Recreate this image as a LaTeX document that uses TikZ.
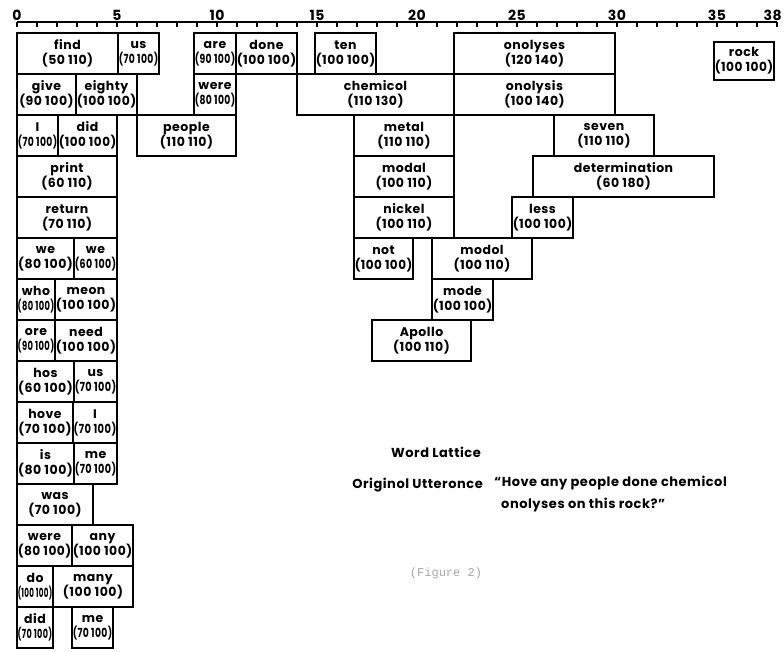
\documentclass[tikz,border=0pt]{standalone}
\usepackage{graphicx}
\usepackage{fontspec}
\setmainfont{Poppins}[LetterSpace=4]
\newfontfamily\typewriter{Liberation Mono}
% squeeze a text into a given width when it is wider
\newsavebox\fitbox
\newcommand\fitto[2]{\sbox\fitbox{#2}%
  \ifdim\wd\fitbox>#1\relax\resizebox{#1}{\height}{\usebox\fitbox}%
  \else\usebox\fitbox\fi}
\begin{document}
\begin{tikzpicture}[
  x=20pt, y=-41pt,
  every node/.style={font=\bfseries\fontsize{12.5}{15}\selectfont},
  wordbox/.style={draw, line width=1.3pt, inner sep=0pt, outer sep=0pt,
    align=center, minimum height=41pt},
  ticklabel/.style={anchor=south, inner sep=1pt,
    font=\bfseries\fontsize{14}{16}\selectfont},
  caption/.style={font=\bfseries\fontsize{13}{22}\selectfont},
]
\useasboundingbox (-17pt,33pt) rectangle (767pt,-618pt);

% scale along the top
\begin{scope}[yshift=11pt]
  \draw[line width=1.2pt] (0,0) -- (38,0);
  \foreach \i in {0,...,38} {
    \draw[line width=1.2pt] (\i,0) -- ++(0pt,-5pt);
  }
  \foreach \i in {0,5,...,35} {
    \node[ticklabel] (tick\i) at (\i,0) {\i};
  }
  \node[ticklabel, anchor=south east] (tick38) at ([xshift=6pt]38,0) {38};
\end{scope}

% left column of the lattice
\foreach \nm/\xa/\xb/\r/\w/\v in {
    find/0/5.05/0/find/50 110, usA/5.05/7.1/0/us/70 100,
    give/0/2.95/1/give/90 100, eighty/2.95/6/1/eighty/100 100,
    iA/0/2.05/2/I/70 100, didA/2.05/5/2/did/100 100,
    print/0/5/3/print/60 110,
    return/0/5/4/return/70 110,
    weA/0/2.85/5/we/80 100, weB/2.85/5/5/we/60 100,
    who/0/1.9/6/who/80 100, mean/1.9/5/6/meon/100 100,
    areA/0/1.9/7/ore/90 100, need/1.9/5/7/need/100 100,
    has/0/2.85/8/hos/60 100, usB/2.85/5/8/us/70 100,
    have/0/2.8/9/hove/70 100, iB/2.8/5/9/I/70 100,
    is/0/2.85/10/is/80 100, meA/2.85/5/10/me/70 100,
    was/0/3.8/11/was/70 100,
    wereA/0/2.75/12/were/80 100, any/2.75/5.8/12/any/100 100,
    do/0/1.8/13/do/100 100, many/1.8/5.8/13/many/100 100,
    didB/0/1.8/14/did/70 100, meB/2.75/4.8/14/me/70 100} {
  \pgfmathsetlengthmacro\boxw{(\xb-\xa)*20pt-1.5pt}
  \node[wordbox, minimum width={(\xb-\xa)*20pt}]
    (\nm) at ({(\xa+\xb)/2}, {\r+0.5})
    {\makebox[0pt]{\w}\\\makebox[0pt]{\fitto{\boxw}{(\v)}}};
}

% middle and right of the lattice
\foreach \nm/\xa/\xb/\r/\w/\v in {
    areB/8.85/10.95/0/are/90 100, done/10.95/14/0/done/100 100,
    ten/14.9/17.95/0/ten/100 100, analyses/21.85/29.9/0/onolyses/120 140,
    wereB/8.85/10.95/1/were/80 100, chemical/14/21.85/1/chemicol/110 130,
    analysis/21.85/29.9/1/onolysis/100 140,
    people/6/10.95/2/people/110 110, metal/16.85/21.85/2/metal/110 110,
    seven/26.85/31.85/2/seven/110 110,
    modalA/16.85/21.85/3/modal/100 110,
    determination/25.8/34.85/3/determination/60 180,
    nickel/16.85/21.85/4/nickel/100 110, less/24.75/27.8/4/less/100 100,
    not/16.85/19.8/5/not/100 100, modalB/20.75/25.75/5/modol/100 110,
    mode/20.75/23.8/6/mode/100 100,
    apollo/17.75/22.7/7/Apollo/100 110} {
  \pgfmathsetlengthmacro\boxw{(\xb-\xa)*20pt-1.5pt}
  \node[wordbox, minimum width={(\xb-\xa)*20pt}]
    (\nm) at ({(\xa+\xb)/2}, {\r+0.5})
    {\makebox[0pt]{\w}\\\makebox[0pt]{\fitto{\boxw}{(\v)}}};
}
\node[wordbox, minimum width=60pt, minimum height=38pt]
  (rock) at (36.35, 0.685)
  {\makebox[0pt]{rock}\\\makebox[0pt]{\fitto{58.5pt}{(100 100)}}};

% captions
\node[caption] (title) at (20.95, 10.22) {Word Lattice};
\node[caption, anchor=east, inner sep=0pt] (uttlabel) at (23.3, 11.02)
  {Originol Utteronce};
\node[caption, anchor=north west, inner sep=0pt, align=left]
  (utterance) at (23.85, 10.8)
  {“Hove any people done chemicol\\\phantom{“}onolyses on this rock?”};
\node[text=black!35, font=\typewriter\fontsize{12}{14}\selectfont]
  (figlabel) at (21.45, 13.17) {(Figure 2)};
\end{tikzpicture}
\end{document}
